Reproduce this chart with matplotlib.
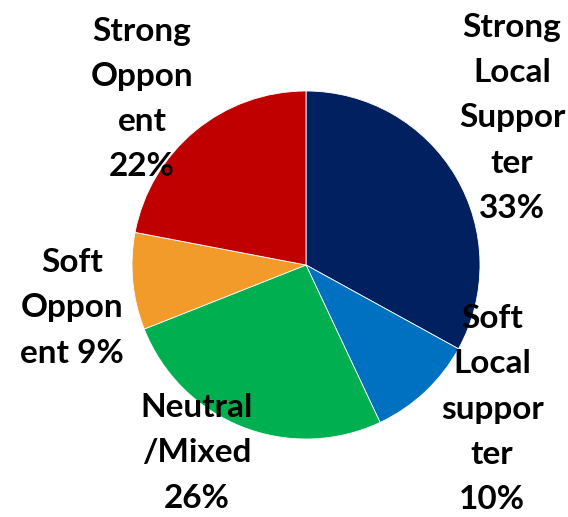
import matplotlib.pyplot as plt

categories = ["Strong Local Supporter", "Soft Local supporter", "Neutral/Mixed",
              "Soft Opponent", "Strong Opponent"]
shares = [33, 10, 26, 9, 22]
colors = ["#002060", "#0070C0", "#00B050", "#F29B2A", "#C00000"]
label_texts = [
    "Strong\nLocal\nSuppor\nter\n33%",
    "Soft\nLocal\nsuppor\nter\n10%",
    "Neutral\n/Mixed\n26%",
    "Soft\nOppon\nent 9%",
    "Strong\nOppon\nent\n22%",
]
# label centres in pixels (x, y from top)
label_pos = [(512, 118), (492, 409), (197, 453), (72, 308), (142, 99)]

W, H = 568, 517
fig = plt.figure(figsize=(W / 100, H / 100), dpi=100)
cx, cy, r = 306, 265, 174
ax = fig.add_axes([(cx - r) / W, (H - cy - r) / H, 2 * r / W, 2 * r / H])
ax.pie(shares, colors=colors, startangle=90, counterclock=False,
       wedgeprops=dict(edgecolor="white", linewidth=0.6))
ax.set_xlim(-1, 1)
ax.set_ylim(-1, 1)
ax.set_aspect("equal")
ax.axis("off")

for txt, (px, py) in zip(label_texts, label_pos):
    fig.text(px / W, 1 - py / H, txt, ha="center", va="center",
             fontsize=24, fontweight="bold", family="Lato",
             linespacing=1.68, color="black")

fig.savefig("out.png", dpi=100)
